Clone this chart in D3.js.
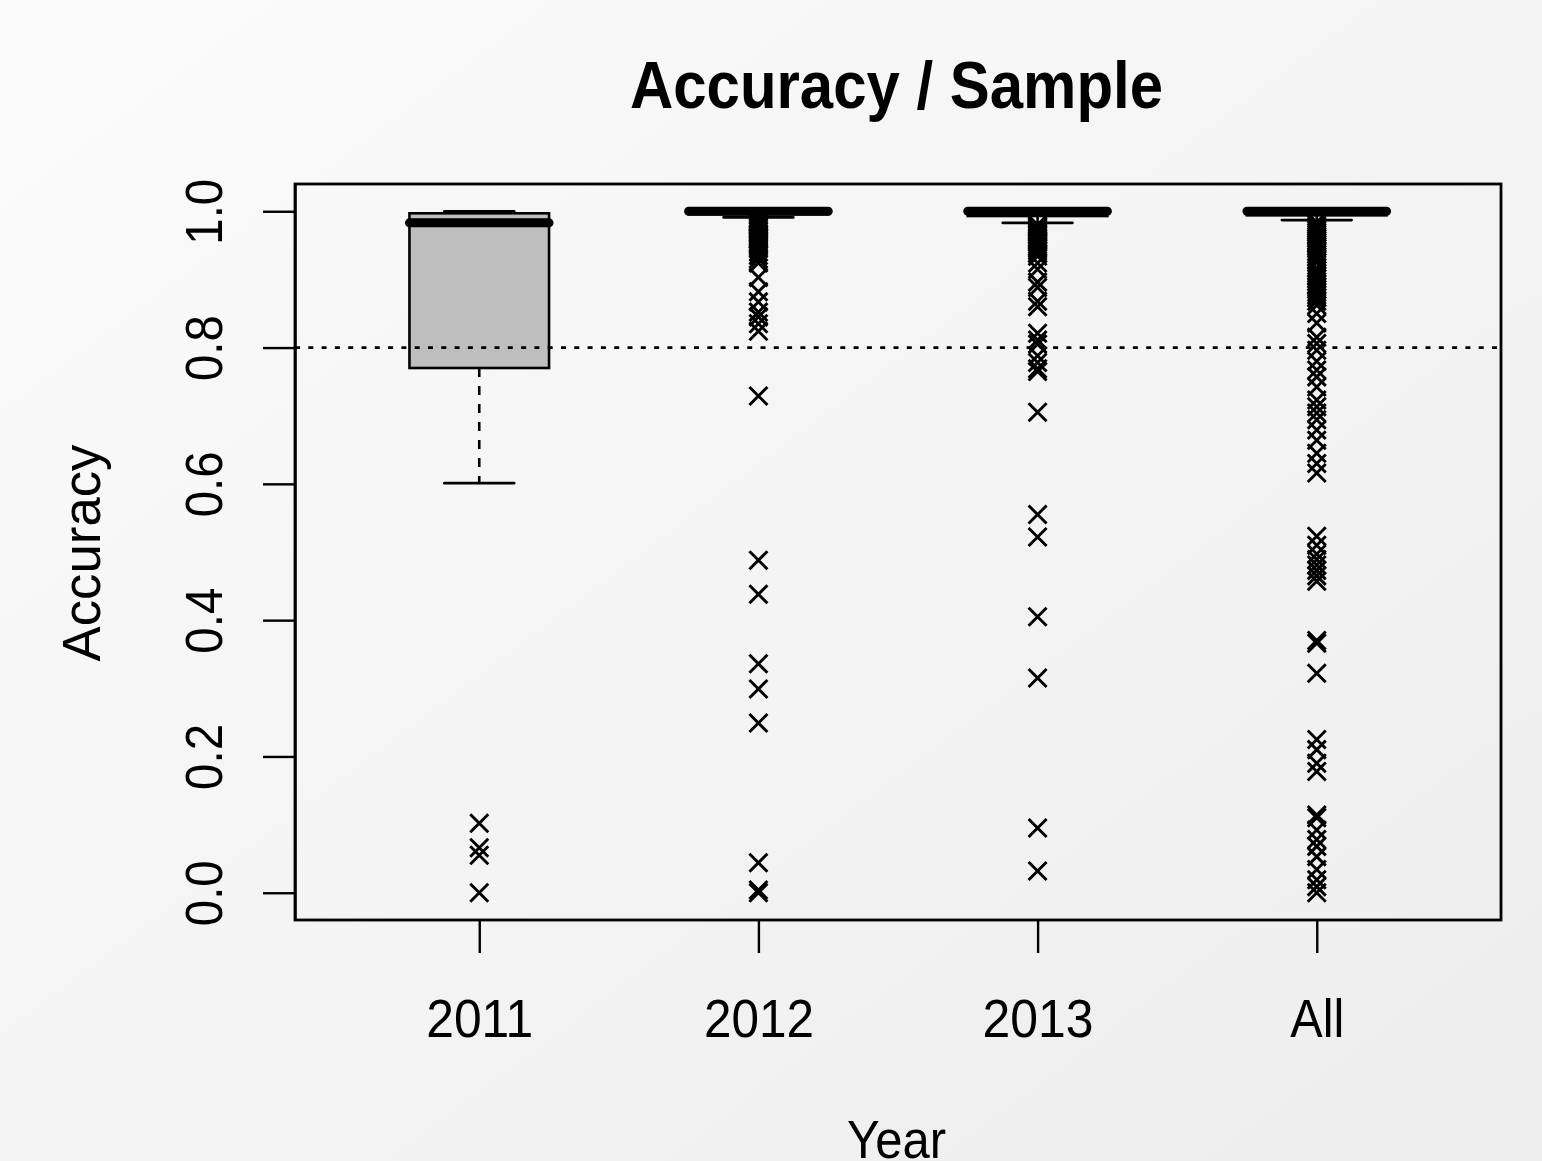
<!DOCTYPE html>
<html>
<head>
<meta charset="utf-8">
<script src="https://cdn.jsdelivr.net/npm/d3@7"></script>
<style>
  html, body { margin: 0; padding: 0; overflow: hidden; }
  text { font-family: "Liberation Sans", Arial, Helvetica, sans-serif; fill: #000; }
</style>
</head>
<body>
<script>
// box statistics, one entry per group
var groups = ["2011", "2012", "2013", "All"]
var q1 = [0.770, 0.9955, 0.993, 0.994]
var med = [0.983, 1.0, 1.0, 1.0]
var q3 = [0.997, 1.0, 1.0, 1.0]
var whiskLo = [0.601, 0.991, 0.983, 0.987]
var whiskHi = [1.0, 1.0, 1.0, 1.0]

// outliers
var out2011 = [0.102, 0.066, 0.055, 0.0]
var out2012 = [0.989, 0.987, 0.985, 0.983, 0.981, 0.979, 0.977, 0.975, 0.972, 0.97,
    0.967, 0.965, 0.962, 0.96, 0.958, 0.955, 0.952, 0.95, 0.945, 0.94, 0.935, 0.93,
    0.924, 0.903, 0.882, 0.867, 0.852, 0.845, 0.835, 0.824,
    0.729, 0.488, 0.438, 0.336, 0.299, 0.249, 0.044, 0.004, 0.0]
var out2013 = [0.98, 0.978, 0.976, 0.974, 0.972, 0.97, 0.968, 0.966, 0.964, 0.962,
    0.96, 0.958, 0.956, 0.954, 0.951, 0.948, 0.945, 0.942, 0.938, 0.934, 0.924, 0.915,
    0.896, 0.888, 0.868, 0.86, 0.821, 0.811, 0.805, 0.788, 0.778, 0.769, 0.765, 0.705,
    0.555, 0.522, 0.405, 0.315, 0.095, 0.032]
var outAll = [0.984, 0.981, 0.978, 0.975, 0.972, 0.969, 0.966, 0.963, 0.96, 0.957,
    0.954, 0.951, 0.948, 0.945, 0.941, 0.937, 0.933, 0.929, 0.925, 0.917, 0.913,
    0.909, 0.905, 0.901, 0.897, 0.893, 0.889, 0.885, 0.881, 0.877, 0.873, 0.868,
    0.862, 0.85, 0.836, 0.815, 0.806, 0.796, 0.78, 0.767, 0.757, 0.742, 0.723, 0.713,
    0.704, 0.694, 0.679, 0.664, 0.645, 0.63, 0.616,
    0.523, 0.51, 0.497, 0.489, 0.481, 0.473, 0.465, 0.457, 0.37, 0.366, 0.322,
    0.225, 0.21, 0.19, 0.178, 0.114, 0.11, 0.092, 0.078, 0.068, 0.053, 0.034,
    0.019, 0.009, 0.0]
var outliers = [out2011, out2012, out2013, outAll]

var yTicks = [0, 0.2, 0.4, 0.6, 0.8, 1.0]
var refLine = 0.8

var W = 1542, H = 1161
var plot = { left: 295, right: 1501, top: 184, bottom: 920 }

var d = d3.select("body").append("svg")
    .attr("width", W)
    .attr("height", H)

var defs = d.append("defs")
var grad = defs.append("linearGradient")
    .attr("id", "bg")
    .attr("x1", "0").attr("y1", "0")
    .attr("x2", "1").attr("y2", "1")
grad.append("stop").attr("offset", "0").attr("stop-color", "#fbfbfb")
grad.append("stop").attr("offset", "1").attr("stop-color", "#ededed")

d.append("rect")
    .attr("width", W).attr("height", H)
    .attr("fill", "url(#bg)")

// R style: x range 0.5..4.5 widened by 4%, y range 0..1 widened by 4%
var x = d3.scaleLinear().domain([0.34, 4.66]).range([plot.left, plot.right])
var y = d3.scaleLinear().domain([-0.04, 1.04]).range([plot.bottom, plot.top])

var boxHalf = 0.25, stapleHalf = 0.125, lw = 2.6

var g = d.append("g")

groups.forEach(function (name, i) {
    var cx = x(i + 1)
    var bx = x(i + 1 - boxHalf), bw = x(i + 1 + boxHalf) - bx
    var sx0 = x(i + 1 - stapleHalf), sx1 = x(i + 1 + stapleHalf)

    // whiskers
    g.append("line")
        .attr("x1", cx).attr("x2", cx)
        .attr("y1", y(q1[i])).attr("y2", y(whiskLo[i]))
        .attr("stroke", "#000").attr("stroke-width", lw)
        .attr("stroke-dasharray", "9,9")
    g.append("line")
        .attr("x1", cx).attr("x2", cx)
        .attr("y1", y(q3[i])).attr("y2", y(whiskHi[i]))
        .attr("stroke", "#000").attr("stroke-width", lw)
        .attr("stroke-dasharray", "9,9")

    // staples
    ;[whiskLo[i], whiskHi[i]].forEach(function (v) {
        g.append("line")
            .attr("x1", sx0).attr("x2", sx1)
            .attr("y1", y(v)).attr("y2", y(v))
            .attr("stroke", "#000").attr("stroke-width", lw)
            .attr("stroke-linecap", "round")
    })

    // box
    g.append("rect")
        .attr("x", bx).attr("width", bw)
        .attr("y", y(q3[i])).attr("height", Math.max(y(q1[i]) - y(q3[i]), 0.5))
        .attr("fill", "#bebebe")
        .attr("stroke", "#000").attr("stroke-width", lw)

    // median
    g.append("line")
        .attr("x1", bx).attr("x2", bx + bw)
        .attr("y1", y(med[i])).attr("y2", y(med[i]))
        .attr("stroke", "#000").attr("stroke-width", 9)
        .attr("stroke-linecap", "round")

    // outliers as x marks
    var s = 9
    g.selectAll(null)
        .data(outliers[i])
        .enter().append("path")
        .attr("d", function (v) {
            var py = y(v)
            return "M" + (cx - s) + "," + (py - s) + "L" + (cx + s) + "," + (py + s) +
                "M" + (cx - s) + "," + (py + s) + "L" + (cx + s) + "," + (py - s)
        })
        .attr("stroke", "#000").attr("stroke-width", 2.9)
        .attr("fill", "none")
})

// dotted reference line
d.append("line")
    .attr("x1", plot.left).attr("x2", plot.right)
    .attr("y1", y(refLine)).attr("y2", y(refLine))
    .attr("stroke", "#000").attr("stroke-width", 2.8)
    .attr("stroke-dasharray", "5,8.3")

// plot frame
d.append("rect")
    .attr("x", plot.left).attr("y", plot.top)
    .attr("width", plot.right - plot.left).attr("height", plot.bottom - plot.top)
    .attr("fill", "none").attr("stroke", "#000").attr("stroke-width", 2.8)

// y axis
var yAxis = d.append("g")
    .attr("transform", "translate(" + plot.left + ",0)")
    .call(d3.axisLeft(y).tickValues(yTicks).tickFormat(d3.format(".1f"))
        .tickSize(32).tickSizeOuter(0))
yAxis.select(".domain").attr("stroke-width", 2.4)
yAxis.selectAll(".tick line").attr("stroke-width", 2.4)
yAxis.selectAll(".tick text")
    .attr("transform", "rotate(-90)")
    .attr("x", 0).attr("y", -73).attr("dy", 0)
    .attr("text-anchor", "middle")
    .style("font-size", "52px")
    .attr("textLength", 66).attr("lengthAdjust", "spacingAndGlyphs")

// x axis
var xLen = [107, 110, 111, 54]
var xAxis = d.append("g")
    .attr("transform", "translate(0," + plot.bottom + ")")
    .call(d3.axisBottom(x).tickValues([1, 2, 3, 4])
        .tickFormat(function (v) { return groups[v - 1] })
        .tickSize(33).tickSizeOuter(0))
xAxis.select(".domain").remove()
xAxis.selectAll(".tick line").attr("stroke-width", 2.4)
xAxis.selectAll(".tick text")
    .attr("y", 117).attr("dy", 0)
    .style("font-size", "54px")
    .attr("textLength", function (v) { return xLen[v - 1] })
    .attr("lengthAdjust", "spacingAndGlyphs")

// titles
d.append("text")
    .attr("x", 896.5).attr("y", 108)
    .attr("text-anchor", "middle")
    .style("font-size", "66px").style("font-weight", "bold")
    .attr("textLength", 533).attr("lengthAdjust", "spacingAndGlyphs")
    .text("Accuracy / Sample")

d.append("text")
    .attr("transform", "translate(100,553) rotate(-90)")
    .attr("text-anchor", "middle")
    .style("font-size", "54px")
    .attr("textLength", 217).attr("lengthAdjust", "spacingAndGlyphs")
    .text("Accuracy")

d.append("text")
    .attr("x", 896.5).attr("y", 1158)
    .attr("text-anchor", "middle")
    .style("font-size", "54px")
    .attr("textLength", 99).attr("lengthAdjust", "spacingAndGlyphs")
    .text("Year")
</script>
</body>
</html>
